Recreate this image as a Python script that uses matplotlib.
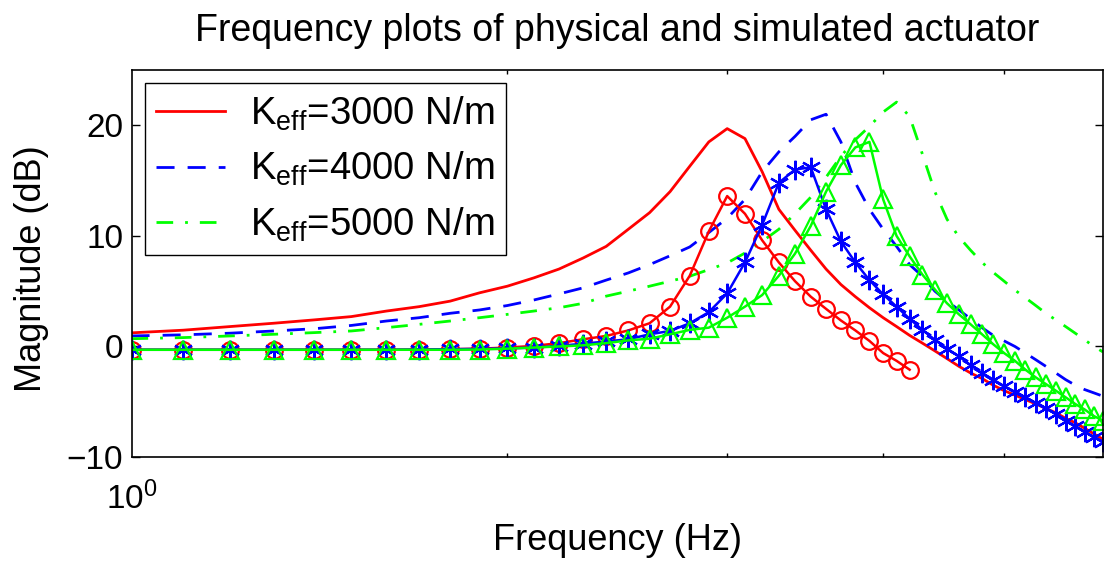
import matplotlib
matplotlib.use("Agg")
import matplotlib.pyplot as plt
from matplotlib.ticker import NullFormatter

plt.rcParams["font.family"] = ["Liberation Sans", "DejaVu Sans"]
plt.rcParams["mathtext.fontset"] = "custom"
plt.rcParams["mathtext.rm"] = "Liberation Sans"
plt.rcParams["mathtext.it"] = "Liberation Sans:italic"

# Frecuencias (Hz)
freq = [1.0, 1.1, 1.2, 1.3, 1.4, 1.5, 1.6, 1.7, 1.8, 1.9,
        2.0, 2.1, 2.2, 2.3, 2.4, 2.5, 2.6, 2.7, 2.8, 2.9,
        3.0, 3.1, 3.2, 3.3, 3.4, 3.5, 3.6, 3.7, 3.8, 3.9,
        4.0, 4.1, 4.2, 4.3, 4.4, 4.5, 4.6, 4.7, 4.8, 4.9,
        5.0, 5.1, 5.2, 5.3, 5.4, 5.5, 5.6, 5.7, 5.8, 5.9,
        6.0]
freq_3000_med = freq[:33]

# Simulado (dB)
sim_3000 = [1.23, 1.47, 1.8, 2.1, 2.4, 2.7, 3.2, 3.6, 4.1, 4.85,
            5.45, 6.2, 7.0, 8.0, 9.05, 10.6, 12.1, 14.0, 16.3, 18.5,
            19.7, 18.8, 15.8, 12.4, 10.5, 8.7, 7.0, 5.6, 4.5, 3.5,
            2.6, 1.8, 1.0, 0.3, -0.4, -1.1, -1.8, -2.4, -2.9, -3.5,
            -4.0, -4.4, -4.8, -5.2, -5.6, -6.0, -6.5, -6.9, -7.4, -7.9,
            -8.4]
sim_4000 = [0.95, 1.05, 1.2, 1.4, 1.6, 1.9, 2.3, 2.6, 3.0, 3.3,
            3.7, 4.2, 4.75, 5.3, 6.0, 6.65, 7.4, 8.2, 9.0, 10.3,
            11.6, 13.3, 15.8, 17.6, 19.0, 20.5, 21.0, 18.5, 14.8, 12.4,
            10.6, 9.05, 7.4, 6.35, 5.0, 4.1, 3.3, 2.5, 1.7, 1.0,
            0.5, 0.0, -0.6, -1.2, -1.8, -2.4, -3.0, -3.5, -3.9, -4.2,
            -4.5]
sim_5000 = [0.7, 0.8, 0.95, 1.1, 1.25, 1.4, 1.7, 2.0, 2.3, 2.6,
            2.9, 3.2, 3.5, 3.9, 4.55, 5.0, 5.45, 5.9, 6.35, 6.95,
            7.55, 8.45, 9.5, 10.6, 12.0, 13.5, 15.3, 17.2, 18.7, 19.9,
            21.2, 22.1, 20.8, 17.4, 14.0, 11.5, 9.9, 8.7, 7.6, 6.7,
            5.9, 5.1, 4.4, 3.7, 3.0, 2.4, 1.8, 1.2, 0.6, 0.0,
            -0.5]

# Medido (dB)
med_3000 = [-0.3, -0.3, -0.3, -0.3, -0.3, -0.3, -0.3, -0.28, -0.25, -0.2,
            -0.1, 0.05, 0.3, 0.65, 0.95, 1.45, 2.1, 3.6, 6.4, 10.4,
            13.6, 12.0, 9.6, 7.6, 5.9, 4.5, 3.4, 2.35, 1.45, 0.5,
            -0.6, -1.3, -2.1]
med_4000 = [-0.3, -0.3, -0.3, -0.3, -0.3, -0.3, -0.3, -0.28, -0.25, -0.22,
            -0.18, -0.1, 0.05, 0.25, 0.45, 0.65, 1.1, 1.4, 2.1, 3.1,
            4.8, 7.6, 11.0, 14.8, 16.0, 16.2, 12.4, 9.5, 7.6, 6.0,
            4.7, 3.6, 2.5, 1.5, 0.6, -0.2, -0.9, -1.7, -2.4, -3.0,
            -3.6, -4.1, -4.6, -5.1, -5.6, -6.1, -6.7, -7.2, -7.7, -8.2,
            -8.6]
med_5000 = [-0.3, -0.3, -0.3, -0.3, -0.3, -0.3, -0.3, -0.3, -0.3, -0.28,
            -0.2, -0.1, 0.0, 0.1, 0.3, 0.55, 0.7, 1.1, 1.5, 1.7,
            2.6, 3.6, 4.65, 6.4, 8.4, 10.9, 14.0, 16.4, 18.0, 18.5,
            13.3, 10.0, 8.15, 6.5, 5.15, 3.9, 2.9, 2.0, 1.1, 0.2,
            -0.6, -1.3, -2.1, -2.8, -3.4, -4.0, -4.6, -5.2, -5.7, -6.3,
            -6.7]

etiquetas = [r"K$_{\rm eff}$=3000 N/m", r"K$_{\rm eff}$=4000 N/m", r"K$_{\rm eff}$=5000 N/m"]

fig = plt.figure(figsize=(11.07, 5.62), dpi=100)
ax = fig.add_axes([0.1188, 0.1868, 0.8776, 0.6886])

ax.plot(freq, sim_3000, "-", color="#ff0000", lw=2, label=etiquetas[0])
ax.plot(freq, sim_4000, "--", color="#0000ff", lw=2, dashes=(6.5, 4.7), label=etiquetas[1])
ax.plot(freq, sim_5000, "-.", color="#00ff00", lw=2, dashes=(6, 4.3, 1, 4.3), label=etiquetas[2])

ax.plot(freq_3000_med, med_3000, "-o", color="#ff0000", lw=1.8, ms=12,
        mfc="none", mew=1.6)
ax.plot(freq, med_4000, "-", color="#0000ff", lw=1.8, marker=(6, 2, 0), ms=14, mew=1.6)
ax.plot(freq, med_5000, "-^", color="#00ff00", lw=1.8, ms=13, mfc="none", mew=1.6)

ax.set_xscale("log")
ax.set_xlim(1, 6)
ax.set_ylim(-10, 25)
ax.set_yticks([-10, 0, 10, 20])
ax.set_xticks([1])
ax.set_xticklabels([r"$10^{0}$"])
ax.set_xticks([2, 3, 4, 5], minor=True)
ax.xaxis.set_minor_formatter(NullFormatter())

ax.tick_params(axis="both", which="both", direction="in", top=True, right=True,
               labelsize=24, width=1)
ax.tick_params(axis="y", which="major", length=6, pad=6)
ax.tick_params(axis="x", which="major", length=0, pad=18)
ax.tick_params(axis="x", which="minor", length=3)
for s in ax.spines.values():
    s.set_linewidth(1.2)

ax.set_xlabel("Frequency (Hz)", fontsize=26)
ax.xaxis.label.set_va("center")
ax.xaxis.set_label_coords(0.5, -0.2145)
ax.set_ylabel("Magnitude (dB)", fontsize=26)
ax.yaxis.set_label_coords(-0.0849, 0.486)

fig.text(0.5574, 1 - 31 / 562, "Frequency plots of physical and simulated actuator",
         ha="center", va="center", fontsize=27)

leg = ax.legend(loc="upper left", bbox_to_anchor=(0.0139, 0.966), borderaxespad=0,
                fontsize=27.5, handlelength=1.8, labelspacing=0.45, borderpad=0.3,
                handletextpad=0.65, fancybox=False, framealpha=1)
leg.get_frame().set_edgecolor("black")
leg.get_frame().set_linewidth(1)

fig.savefig("out.png", dpi=100)
